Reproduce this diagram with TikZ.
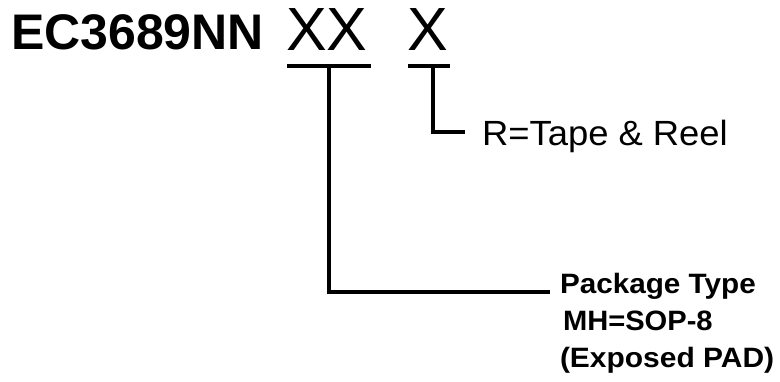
\documentclass[tikz,border=0pt]{standalone}
\usepackage{fontspec}
\setmainfont{Liberation Sans}
\begin{document}
\begin{tikzpicture}[x=1pt,y=-1pt,
  lbl/.style={anchor=base west,inner sep=0pt,outer sep=0pt},
  conn/.style={line width=4pt,line cap=butt,line join=miter}]
\useasboundingbox (0,0) rectangle (780,382);
\node[lbl,font=\fontsize{50}{50}\selectfont\bfseries] (pn) at (11,50) {EC3689NN};
\node[lbl,font=\fontsize{61}{61}\selectfont] (xx) at (286,51) {XX};
\node[lbl,font=\fontsize{61}{61}\selectfont] (x) at (407,51) {X};
\coordinate (u1a) at (287,66);
\coordinate (u1b) at (371,66);
\coordinate (u2a) at (408,66);
\coordinate (u2b) at (450,66);
\coordinate (t1) at (329,66);
\coordinate (t2) at (433,66);
\node[lbl,font=\fontsize{35}{35}\selectfont] (tape) at (482,146) {\scalebox{1.04}[1]{R=Tape \& Reel}};
\node[lbl,font=\fontsize{28}{28}\selectfont\bfseries] (pkg) at (560,294) {\scalebox{1.06}[1]{Package Type}};
\node[lbl,font=\fontsize{28}{28}\selectfont\bfseries] (mh) at (563,331) {\scalebox{1.04}[1]{MH=SOP-8}};
\node[lbl,font=\fontsize{28}{28}\selectfont\bfseries] (exp) at (560,368) {\scalebox{1.07}[1]{(Exposed PAD)}};
\draw[conn] (u1a) -- (u1b);
\draw[conn] (u2a) -- (u2b);
\draw[conn] (t1) |- (550,292) coordinate (e1);
\draw[conn] (t2) |- (465,132) coordinate (e2);
\end{tikzpicture}
\end{document}
